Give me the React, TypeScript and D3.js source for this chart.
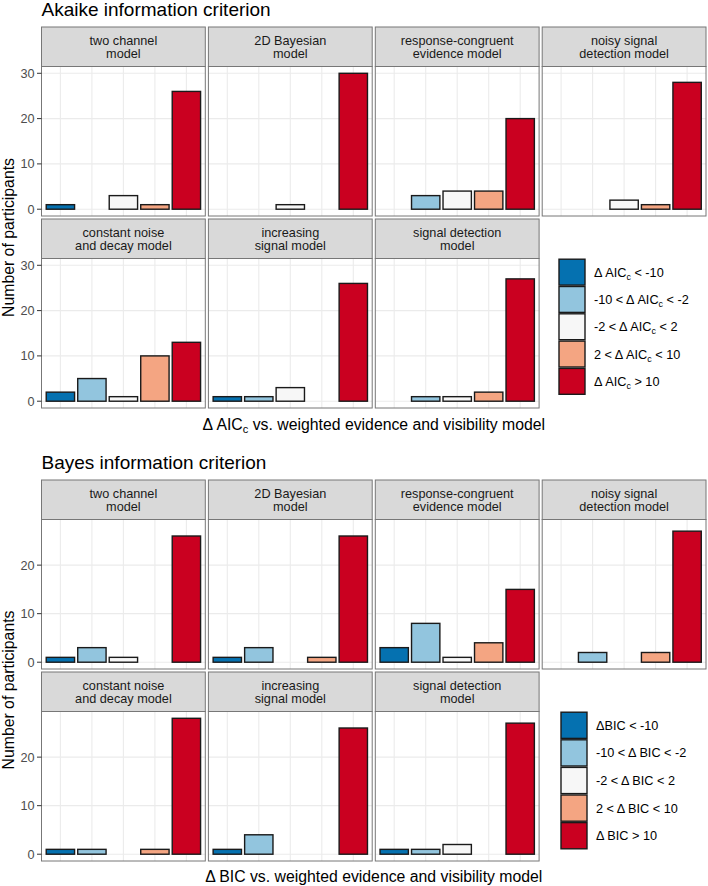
import * as d3 from "d3";
import * as React from "react";

// bins of the delta criterion, lowest to highest
const bins = ["lt-10", "-10to-2", "-2to2", "2to10", "gt10"];
const binColors = ["#0571b0", "#92c5de", "#f7f7f7", "#f4a582", "#ca0020"];

const modelStrips = [
    ["two channel", "model"],
    ["2D Bayesian", "model"],
    ["response-congruent", "evidence model"],
    ["noisy signal", "detection model"],
    ["constant noise", "and decay model"],
    ["increasing", "signal model"],
    ["signal detection", "model"],
];

// participant counts per model (same order as modelStrips), per bin
const aicCounts = [
    [1, 0, 3, 1, 26],
    [0, 0, 1, 0, 30],
    [0, 3, 4, 4, 20],
    [0, 0, 2, 1, 28],
    [2, 5, 1, 10, 13],
    [1, 1, 3, 0, 26],
    [0, 1, 1, 2, 27],
];

const bicCounts = [
    [1, 3, 1, 0, 26],
    [1, 3, 0, 1, 26],
    [3, 8, 1, 4, 15],
    [0, 2, 0, 2, 27],
    [1, 1, 0, 1, 28],
    [1, 4, 0, 0, 26],
    [1, 1, 2, 0, 27],
];

const aicTicks = [0, 10, 20, 30];
const bicTicks = [0, 10, 20];

// [before, subscript, after]
const aicLegend = [
    ["Δ AIC", "c", " < -10"],
    ["-10 < Δ AIC", "c", " < -2"],
    ["-2 < Δ AIC", "c", " < 2"],
    ["2 < Δ AIC", "c", " < 10"],
    ["Δ AIC", "c", " > 10"],
];
const bicLegend = [
    ["ΔBIC < -10", "", ""],
    ["-10 < Δ BIC < -2", "", ""],
    ["-2 < Δ BIC < 2", "", ""],
    ["2 < Δ BIC < 10", "", ""],
    ["Δ BIC > 10", "", ""],
];

const FONT = "'Liberation Sans', Arial, sans-serif";
const SMALL = 12.7;
const AXIS = 15.8;

const panelLeft = 41.5;
const panelW = 163.8;
const panelGap = 3.1;
const stripH = 39.5;
const panelH = 149.5;
const rowGap = 3;

interface SectionProps {
    title: string;
    top: number;
    counts: number[][];
    ticks: number[];
    yMax: number;
    legend: string[][];
    legendX: number;
    legendRowH: number;
    xTitle: string[];
    xTitleY: number;
    yTitleY: number;
}

const Section: React.FC<SectionProps> = (p) => {
    const x = d3.scaleBand<string>()
        .domain(bins)
        .range([0, panelW])
        .paddingInner(0.1)
        .paddingOuter(0.15);
    const pad = p.yMax * 0.05;
    const y = d3.scaleLinear()
        .domain([-pad, p.yMax + pad])
        .range([panelH, 0]);

    const stripTop = p.top + 27;
    const legendTop = stripTop + stripH + panelH + rowGap + stripH;

    return (
        <g>
            <text x={panelLeft} y={p.top + 15.5} fontSize={19} fontFamily={FONT} fill="#000">{p.title}</text>
            {p.counts.map((vals, i) => {
                const col = i % 4;
                const row = Math.floor(i / 4);
                const px = panelLeft + col * (panelW + panelGap);
                const py = stripTop + row * (stripH + panelH + rowGap);
                const by = py + stripH;
                return (
                    <g key={i}>
                        <rect x={px} y={py} width={panelW} height={stripH} fill="#d9d9d9" stroke="#777" strokeWidth={1} />
                        <text x={px + panelW / 2} y={py + 18.3} textAnchor="middle" fontSize={SMALL} fontFamily={FONT} fill="#1a1a1a">{modelStrips[i][0]}</text>
                        <text x={px + panelW / 2} y={py + 31} textAnchor="middle" fontSize={SMALL} fontFamily={FONT} fill="#1a1a1a">{modelStrips[i][1]}</text>
                        <g transform={`translate(${px},${by})`}>
                            <rect width={panelW} height={panelH} fill="#fff" />
                            {p.ticks.map(t => (
                                <line key={t} x1={0} x2={panelW} y1={y(t)} y2={y(t)} stroke="#ebebeb" strokeWidth={1.1} />
                            ))}
                            {bins.map(b => (
                                <line key={b} x1={x(b)! + x.bandwidth() / 2} x2={x(b)! + x.bandwidth() / 2} y1={0} y2={panelH} stroke="#ebebeb" strokeWidth={1.1} />
                            ))}
                            {vals.map((v, j) => v > 0 ? (
                                <rect key={j} x={x(bins[j])} y={y(v)} width={x.bandwidth()} height={y(0) - y(v)}
                                    fill={binColors[j]} stroke="#1a1a1a" strokeWidth={1.4} />
                            ) : null)}
                            <rect width={panelW} height={panelH} fill="none" stroke="#777" strokeWidth={1} />
                            {col === 0 && p.ticks.map(t => (
                                <g key={t}>
                                    <line x1={-4.5} x2={0} y1={y(t)} y2={y(t)} stroke="#333" strokeWidth={1} />
                                    <text x={-7} y={y(t) + 4.4} textAnchor="end" fontSize={SMALL} fontFamily={FONT} fill="#4d4d4d">{t}</text>
                                </g>
                            ))}
                        </g>
                    </g>
                );
            })}
            {p.legend.map((l, i) => {
                const ly = legendTop + i * p.legendRowH;
                return (
                    <g key={i}>
                        <rect x={p.legendX} y={ly + 0.7} width={26} height={p.legendRowH - 1.4} fill={binColors[i]} stroke="#1a1a1a" strokeWidth={1.4} />
                        <text x={p.legendX + 35} y={ly + p.legendRowH / 2 + 4.5} fontSize={SMALL} fontFamily={FONT} fill="#000">
                            {l[0]}
                            {l[1] && <tspan fontSize={SMALL * 0.7} dy={3}>{l[1]}</tspan>}
                            {l[1] ? <tspan dy={-3}>{l[2]}</tspan> : l[2]}
                        </text>
                    </g>
                );
            })}
            <text x={panelLeft + (4 * panelW + 3 * panelGap) / 2} y={p.xTitleY} textAnchor="middle" fontSize={AXIS} fontFamily={FONT} fill="#000">
                {p.xTitle[0]}
                {p.xTitle[1] && <tspan fontSize={AXIS * 0.7} dy={3.5}>{p.xTitle[1]}</tspan>}
                {p.xTitle[1] ? <tspan dy={-3.5}>{p.xTitle[2]}</tspan> : p.xTitle[2]}
            </text>
            <text transform={`translate(13.5,${p.yTitleY}) rotate(-90)`} textAnchor="middle" fontSize={AXIS} fontFamily={FONT} fill="#000">Number of participants</text>
        </g>
    );
};

export default function App() {
    return (
        <svg width={708} height={886} style={{ position: "absolute", left: 0, top: 0 }}>
            <rect width={708} height={886} fill="#fff" />
            <Section title="Akaike information criterion" top={0} counts={aicCounts} ticks={aicTicks} yMax={30}
                legend={aicLegend} legendX={559} legendRowH={27.3}
                xTitle={["Δ AIC", "c", " vs. weighted evidence and visibility model"]} xTitleY={429.5} yTitleY={237.5} />
            <Section title="Bayes information criterion" top={453} counts={bicCounts} ticks={bicTicks} yMax={28}
                legend={bicLegend} legendX={561} legendRowH={27.6}
                xTitle={["Δ BIC vs. weighted evidence and visibility model", "", ""]} xTitleY={882} yTitleY={690} />
        </svg>
    );
}
